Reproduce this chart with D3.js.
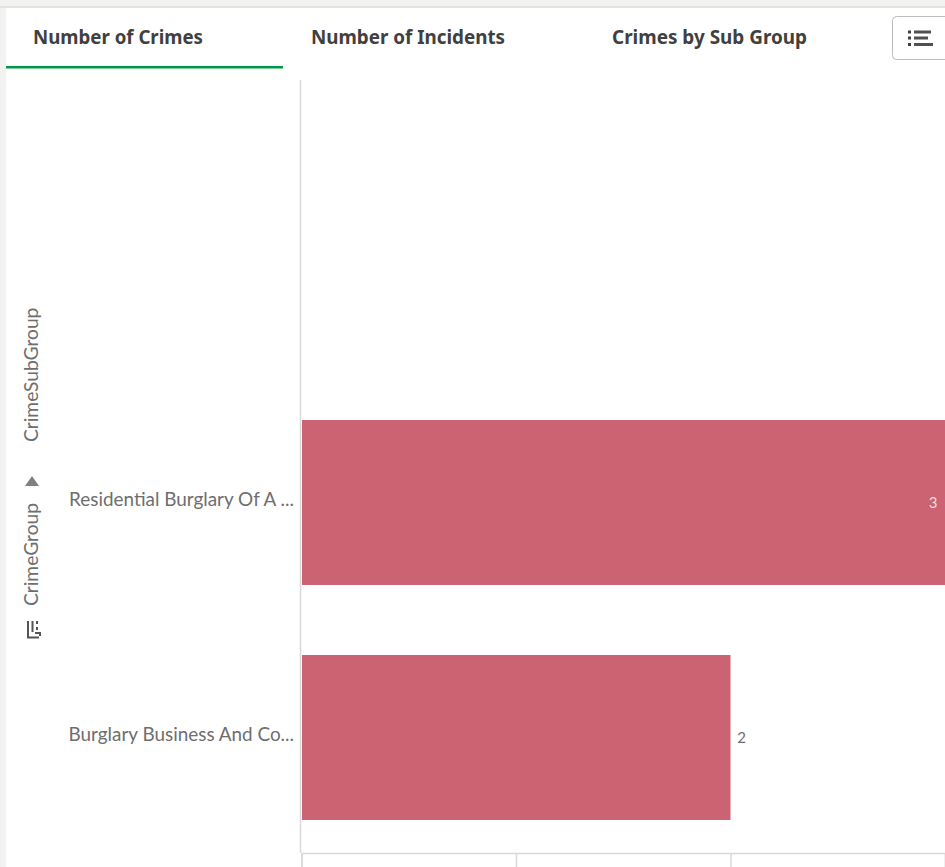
<!DOCTYPE html>
<html>
<head>
<meta charset="utf-8">
<script src="https://cdn.jsdelivr.net/npm/d3@7"></script>
<style>
  html, body { margin: 0; padding: 0; background: #fff; overflow: hidden; }
  text { font-family: Lato, sans-serif; }
  .tab { font-family: "Noto Sans", sans-serif; font-weight: 700; font-size: 20px; fill: #404040; }
  .cat { font-size: 18.9px; fill: #6e6e6e; }
  .title { font-size: 19.2px; fill: #6e6e6e; }
</style>
</head>
<body>
<div id="vis"></div>
<script>
const categories = ["Residential Burglary Of A ...", "Burglary Business And Co..."];
const values = [3, 2];
const tabs = ["Number of Crimes", "Number of Incidents", "Crimes by Sub Group"];
const tabX = [33, 311, 612];
const tabWidths = [170, 194, 195];
const xTicks = [0, 1, 2, 3];

const width = 945, height = 867;
const axisX = 301.5, axisY = 853;

const svg = d3.select("#vis").append("svg")
    .attr("width", width)
    .attr("height", height)
    .style("display", "block");

// page background around the sheet
svg.append("rect").attr("width", width).attr("height", height).attr("fill", "#f2f2f0");
svg.append("rect").attr("x", 6).attr("y", 8).attr("width", width - 6).attr("height", height - 8).attr("fill", "#fff");
svg.append("line").attr("x1", 0).attr("x2", width).attr("y1", 7).attr("y2", 7).attr("stroke", "#dcdcdc").attr("stroke-width", 1.5);

// tabs, squeezed to the width of the condensed face in the original
svg.selectAll("text.tab")
    .data(tabs)
    .enter().append("text")
    .attr("class", "tab")
    .attr("x", (d, i) => tabX[i])
    .attr("y", 44)
    .attr("textLength", (d, i) => tabWidths[i])
    .attr("lengthAdjust", "spacingAndGlyphs")
    .text(d => d);

svg.append("rect").attr("x", 6).attr("y", 66).attr("width", 277).attr("height", 2.5).attr("fill", "#009845");

// list button at top right
const btn = svg.append("g");
btn.append("rect")
    .attr("x", 892.5).attr("y", 16.5).attr("width", 70).attr("height", 43).attr("rx", 4)
    .attr("fill", "#fff").attr("stroke", "#bdbdbd");
[[30.5, 931], [36.5, 928], [43, 933]].forEach(r => {
    btn.append("rect").attr("x", 908).attr("y", r[0]).attr("width", 3).attr("height", 3).attr("fill", "#404040");
    btn.append("rect").attr("x", 914).attr("y", r[0]).attr("width", r[1] - 914).attr("height", 3).attr("fill", "#505050");
});

const x = d3.scaleLinear()
    .domain([0, 3])
    .range([axisX, width]);

const y = d3.scaleBand()
    .domain(categories)
    .range([385, 855])
    .paddingInner(0.298)
    .paddingOuter(0.149);

// bars
svg.selectAll("rect.bar")
    .data(values)
    .enter().append("rect")
    .attr("class", "bar")
    .attr("x", x(0) + 0.5)
    .attr("y", (d, i) => y(categories[i]))
    .attr("width", d => x(d) - x(0) - 0.5)
    .attr("height", y.bandwidth())
    .attr("fill", "#cb6373");

// value labels, inside when the bar reaches the edge
svg.selectAll("text.val")
    .data(values)
    .enter().append("text")
    .attr("class", "val")
    .attr("x", d => d === 3 ? x(d) - 12 : x(d) + 11)
    .attr("y", (d, i) => y(categories[i]) + y.bandwidth() / 2 + 5.5)
    .attr("text-anchor", "middle")
    .attr("font-size", 15)
    .attr("fill", d => d === 3 ? "#f3d9dd" : "#6e6e6e")
    .text(d => d);

// y axis
svg.append("line")
    .attr("x1", 300.5).attr("x2", 300.5).attr("y1", 80).attr("y2", axisY)
    .attr("stroke", "#d9d9d9").attr("stroke-width", 1.5);

svg.selectAll("text.cat")
    .data(categories)
    .enter().append("text")
    .attr("class", "cat")
    .attr("x", 294)
    .attr("y", d => y(d) + y.bandwidth() / 2 + 3.5)
    .attr("text-anchor", "end")
    .text(d => d);

// x axis, ticks hang below the line and the labels are cut off by the window
const xAxis = svg.append("g")
    .attr("transform", `translate(0, ${axisY})`)
    .call(d3.axisBottom(x).tickValues(xTicks).tickSize(14).tickFormat(""));
xAxis.selectAll("line").attr("stroke", "#d9d9d9").attr("stroke-width", 1.5);
xAxis.select(".domain").attr("stroke", "#d9d9d9").attr("stroke-width", 1.5);

// rotated dimension titles
const titles = svg.append("g").attr("transform", "translate(38, 0)");
titles.append("text")
    .attr("class", "title")
    .attr("transform", "translate(0, 442) rotate(-90)")
    .text("CrimeSubGroup");
titles.append("text")
    .attr("class", "title")
    .attr("transform", "translate(0, 606) rotate(-90)")
    .text("CrimeGroup");

// small triangle between the titles
svg.append("path")
    .attr("d", d3.line()([[25, 486], [39, 486], [32, 476]]))
    .attr("fill", "#808080");

// drill-down icon
const drill = svg.append("g").attr("fill", "none").attr("stroke", "#555").attr("stroke-width", 2);
drill.append("path").attr("d", "M28 621V637.5H39");
drill.append("path").attr("d", "M32.5 621V632");
drill.append("path").attr("d", "M37 621V624M37 627V630");
drill.append("path").attr("d", "M35 633H40V636");
</script>
</body>
</html>
